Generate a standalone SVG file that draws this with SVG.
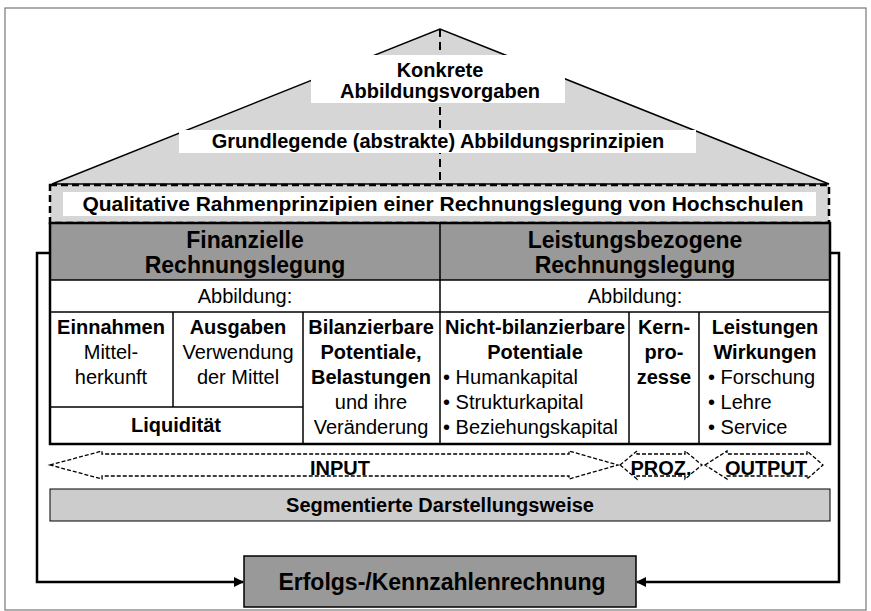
<svg xmlns="http://www.w3.org/2000/svg" width="871" height="611" viewBox="0 0 871 611">
<defs>
<style>
text{font-family:"Liberation Sans",Arial,sans-serif;fill:#000}
.b{font-weight:bold}
.c{text-anchor:middle}
.f20{font-size:20px}
.f21{font-size:21px}
.f23{font-size:23px}
.thin{stroke:#000;stroke-width:1.5;fill:none}
.dash{fill:none;stroke:#000;stroke-width:1.3;stroke-dasharray:4 2}
.conn{fill:none;stroke:#000;stroke-width:2.5}
</style>
<marker id="ah" viewBox="0 0 10 10" refX="9" refY="5" markerWidth="4" markerHeight="4" orient="auto" markerUnits="strokeWidth">
<path d="M0,0 L10,5 L0,10 z" fill="#000"/>
</marker>
</defs>
<rect x="0" y="0" width="871" height="611" fill="#fff"/>
<rect x="5" y="8" width="861" height="602" fill="none" stroke="#777" stroke-width="1.2"/>

<g id="roof">
<polygon points="52,184 440,29 829,184" fill="#d6d6d6" stroke="#000" stroke-width="1.5"/>
<line x1="440" y1="29" x2="440" y2="184" stroke="#000" stroke-width="2" stroke-dasharray="8 5"/>
</g>
<g id="konkrete">
<rect x="311" y="55" width="254" height="48" fill="#fff"/>
<text class="b c f20" x="440" y="77">Konkrete</text>
<text class="b c f20" x="440" y="98">Abbildungsvorgaben</text>
</g>
<g id="grundlegende">
<rect x="179" y="130" width="517" height="23" fill="#fff"/>
<text class="b c f20" x="438" y="148">Grundlegende (abstrakte) Abbildungsprinzipien</text>
</g>
<g id="qualitative">
<rect x="50" y="185" width="779" height="38" fill="#d6d6d6" stroke="#000" stroke-width="2.5" stroke-dasharray="7 4"/>
<rect x="63" y="192" width="753" height="24" fill="#fff"/>
<text class="b c f21" x="443" y="211">Qualitative Rahmenprinzipien einer Rechnungslegung von Hochschulen</text>
</g>

<g id="table">
<rect x="50" y="223" width="780" height="57" fill="#999"/>
<line class="thin" x1="50" y1="280" x2="830" y2="280"/>
<line class="thin" x1="50" y1="312" x2="830" y2="312"/>
<line class="thin" x1="440" y1="223" x2="440" y2="444"/>
<line class="thin" x1="173" y1="312" x2="173" y2="407"/>
<line class="thin" x1="303" y1="312" x2="303" y2="444"/>
<line class="thin" x1="50" y1="407" x2="303" y2="407"/>
<line class="thin" x1="629" y1="312" x2="629" y2="444"/>
<line class="thin" x1="699" y1="312" x2="699" y2="444"/>
<rect x="50" y="223" width="780" height="221" fill="none" stroke="#000" stroke-width="2.5"/>
</g>
<g id="finanzielle">
<text class="b c f23" x="245" y="248">Finanzielle</text>
<text class="b c f23" x="245" y="273">Rechnungslegung</text>
<text class="c f20" x="245" y="303">Abbildung:</text>
</g>
<g id="leistungsbezogene">
<text class="b c f23" x="635" y="248">Leistungsbezogene</text>
<text class="b c f23" x="635" y="273">Rechnungslegung</text>
<text class="c f20" x="635" y="303">Abbildung:</text>
</g>
<g id="einnahmen">
<text class="b c f20" x="111" y="334">Einnahmen</text>
<text class="c f20" x="111" y="359">Mittel-</text>
<text class="c f20" x="111" y="384">herkunft</text>
</g>
<g id="ausgaben">
<text class="b c f20" x="238" y="334">Ausgaben</text>
<text class="c f20" x="238" y="359">Verwendung</text>
<text class="c f20" x="238" y="384">der Mittel</text>
</g>
<g id="liquiditaet">
<text class="b c f20" x="176" y="432">Liquidität</text>
</g>
<g id="bilanzierbare">
<text class="b c f20" x="371" y="334">Bilanzierbare</text>
<text class="b c f20" x="371" y="359">Potentiale,</text>
<text class="b c f20" x="371" y="384">Belastungen</text>
<text class="c f20" x="371" y="409">und ihre</text>
<text class="c f20" x="371" y="434">Veränderung</text>
</g>
<g id="nichtbilanzierbare">
<text class="b c f20" x="535" y="334">Nicht-bilanzierbare</text>
<text class="b c f20" x="535" y="359">Potentiale</text>
<text class="f20" x="443" y="384">• Humankapital</text>
<text class="f20" x="443" y="409">• Strukturkapital</text>
<text class="f20" x="443" y="434">• Beziehungskapital</text>
</g>
<g id="kernprozesse">
<text class="b c f20" x="664" y="334">Kern-</text>
<text class="b c f20" x="664" y="359">pro-</text>
<text class="b c f20" x="664" y="384">zesse</text>
</g>
<g id="leistungen">
<text class="b c f20" x="765" y="334">Leistungen</text>
<text class="b c f20" x="765" y="359">Wirkungen</text>
<text class="f20" x="708" y="384">• Forschung</text>
<text class="f20" x="708" y="409">• Lehre</text>
<text class="f20" x="708" y="434">• Service</text>
</g>

<g id="input">
<polygon class="dash" points="50,465 102,451 102,454 569,454 569,451 618,465 569,479 569,476 102,476 102,479"/>
<text class="b c f20" x="340" y="475">INPUT</text>
</g>
<g id="proz">
<polygon class="dash" points="620,465 637,451 637,454 685,454 685,451 702,465 685,479 685,476 637,476 637,479"/>
<text class="b c f20" x="661" y="475">PROZ.</text>
</g>
<g id="output">
<polygon class="dash" points="705,465 727,451 727,454 807,454 807,451 823,465 807,479 807,476 727,476 727,479"/>
<text class="b c f20" x="766" y="475">OUTPUT</text>
</g>

<g id="segmentierte">
<rect x="50" y="489" width="780" height="32" fill="#ccc" stroke="#000" stroke-width="1"/>
<text class="b c f20" x="440" y="512">Segmentierte Darstellungsweise</text>
</g>

<g id="erfolgs">
<rect x="244" y="556" width="392" height="51" fill="#999" stroke="#000" stroke-width="1.5"/>
<text class="b c f23" x="442" y="590">Erfolgs-/Kennzahlenrechnung</text>
</g>

<g id="connectors">
<path class="conn" d="M50,253 H37 V582 H243" marker-end="url(#ah)"/>
<path class="conn" d="M830,253 H839 V582 H637" marker-end="url(#ah)"/>
</g>
</svg>
